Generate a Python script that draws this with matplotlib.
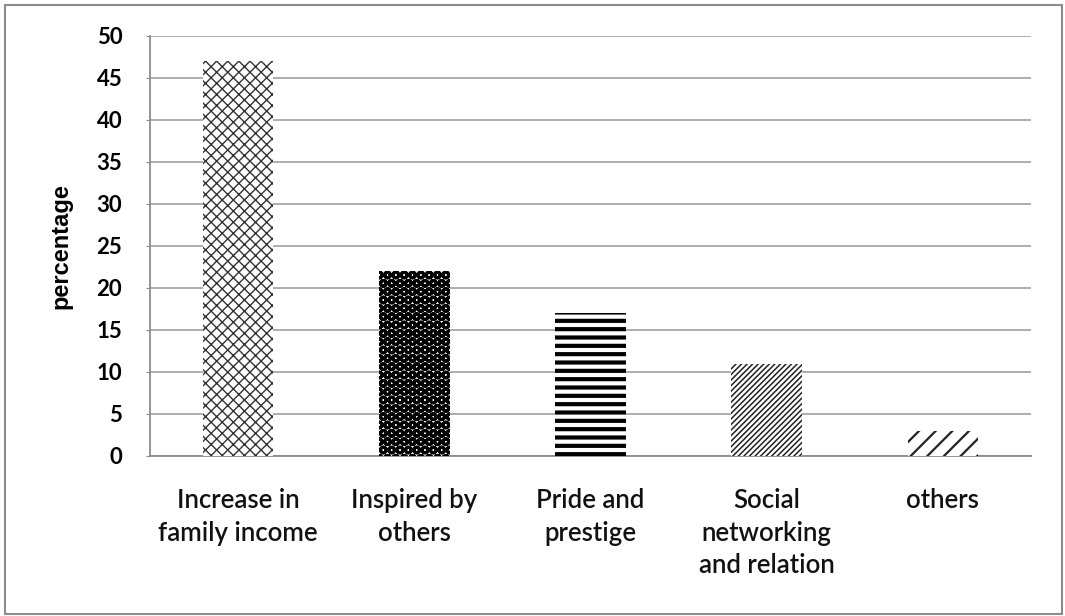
import matplotlib
matplotlib.use("Agg")
import matplotlib.pyplot as plt
from matplotlib.patches import Rectangle

categories = ["Increase in\nfamily income", "Inspired by\nothers", "Pride and\nprestige",
              "Social\nnetworking\nand relation", "others"]
values = [47, 22, 17, 11, 3]
yticks = [0, 5, 10, 15, 20, 25, 30, 35, 40, 45, 50]

hatches = ["xxx", "OO", "--", "//////", "//"]
hatch_widths = [1.0, 2.2, 3.0, 1.1, 1.6]
hatch_colors = ["#333333", "black", "black", "#222222", "#222222"]

fig = plt.figure(figsize=(10.65, 6.16), dpi=100)
ax = fig.add_axes([150 / 1065, (616 - 456) / 616, (1031 - 150) / 1065, (456 - 36) / 616])

x = list(range(len(categories)))
for xi, v, h, hw, hc in zip(x, values, hatches, hatch_widths, hatch_colors):
    with plt.rc_context({"hatch.linewidth": hw, "hatch.color": hc}):
        bars = ax.bar([xi], [v], width=0.4, facecolor="white", edgecolor=hc,
                      hatch=h, linewidth=0, zorder=3)
    for b in bars:
        if hasattr(b, "set_hatch_linewidth"):
            b.set_hatch_linewidth(hw)

ax.set_xlim(-0.5, len(categories) - 0.5)
ax.set_ylim(0, 50)
ax.set_yticks(yticks)
ax.yaxis.grid(True, color="#a0a0a0", linewidth=1.2, zorder=0)
ax.set_axisbelow(True)

for side in ["top", "right"]:
    ax.spines[side].set_visible(False)
for side in ["left", "bottom"]:
    ax.spines[side].set_color("#8c8c8c")
    ax.spines[side].set_linewidth(1.3)

ax.set_xticks(x)
ax.set_xticklabels(categories, fontfamily="Lato", fontweight="semibold", fontsize=18.5,
                   linespacing=1.38, color="#111111")
ax.tick_params(axis="x", length=0, pad=23)
ax.tick_params(axis="y", length=3, color="#8c8c8c", pad=17)
for lbl in ax.get_yticklabels():
    lbl.set_fontfamily("Lato")
    lbl.set_fontweight("bold")
    lbl.set_fontsize(16)

ax.set_ylabel("percentage", fontfamily="Liberation Sans", fontweight="bold", fontsize=17)
ax.yaxis.set_label_coords(-78 / 881, 0.5)

fig.patches.append(Rectangle((5 / 1065, 2 / 616), 1057 / 1065, 609 / 616, transform=fig.transFigure,
                             fill=False, edgecolor="#8c8c8c", linewidth=1.5))

fig.savefig("out.png", dpi=100)
